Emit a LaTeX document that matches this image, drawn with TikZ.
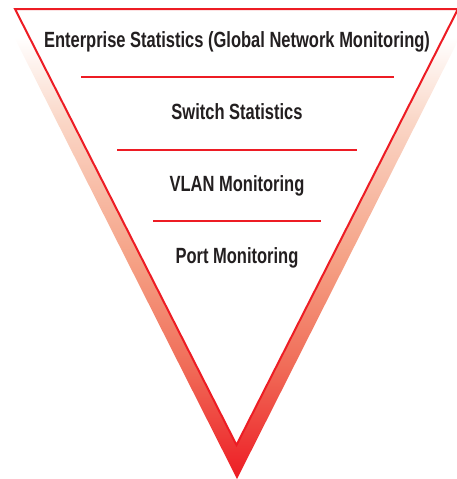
\documentclass[tikz,border=0pt]{standalone}
\usepackage{fontspec}
\setmainfont{Liberation Sans}[FakeStretch=0.75]
\usepackage{xcolor}
\definecolor{Signal Red}{HTML}{ED1C24}
\definecolor{Coral}{HTML}{F06C58}
\definecolor{Salmon}{HTML}{F5A084}
\definecolor{Peach}{HTML}{FAD6C6}
\definecolor{Ink}{HTML}{231F20}
\colorlet{cRed}{Signal Red}
\colorlet{cCoral}{Coral}
\colorlet{cMid}{Salmon}
\colorlet{cLight}{Peach}
\colorlet{cInk}{Ink}
\usetikzlibrary{positioning}
\pgfdeclareverticalshading{funnelfade}{100bp}{color(0bp)=(cRed); color(25bp)=(cRed); color(37bp)=(cCoral); color(48bp)=(cMid); color(63bp)=(cLight); color(72bp)=(white); color(100bp)=(white)}
\tikzset{
	x = 1pt,
	y = -1pt,
	level/.style={
		text=cInk,
		font=\bfseries\fontsize{22}{26}\selectfont,
		inner sep=0pt,
		anchor=base
	},
	divider/.style={
		draw=cRed,
		line width=2pt
	},
	funnel/.style={
		draw=cRed,
		fill=white,
		line width=2pt,
		line join=miter
	}
}

\begin{document}
\begin{tikzpicture}
\useasboundingbox (0,0) rectangle (457,479);
% ---
% funnel
% ---
\shade[shading=funnelfade] (0,9) -- (474,9) -- (237,479) -- cycle;
\draw[funnel] (15,9) -- (458,9) -- (236.5,445) -- cycle;

% ---
% levels
% ---
\node[level] (enterprise) at (237,47) {Enterprise Statistics (Global Network Monitoring)};
\node[level] (switch) at (237,119) {Switch Statistics};
\node[level] (vlan) at (237,191) {VLAN Monitoring};
\node[level] (port) at (237,263) {Port Monitoring};

\draw[divider] (81,77) -- (394,77);
\draw[divider] (117,150) -- (357,150);
\draw[divider] (153,221) -- (321,221);
\end{tikzpicture}
\end{document}
